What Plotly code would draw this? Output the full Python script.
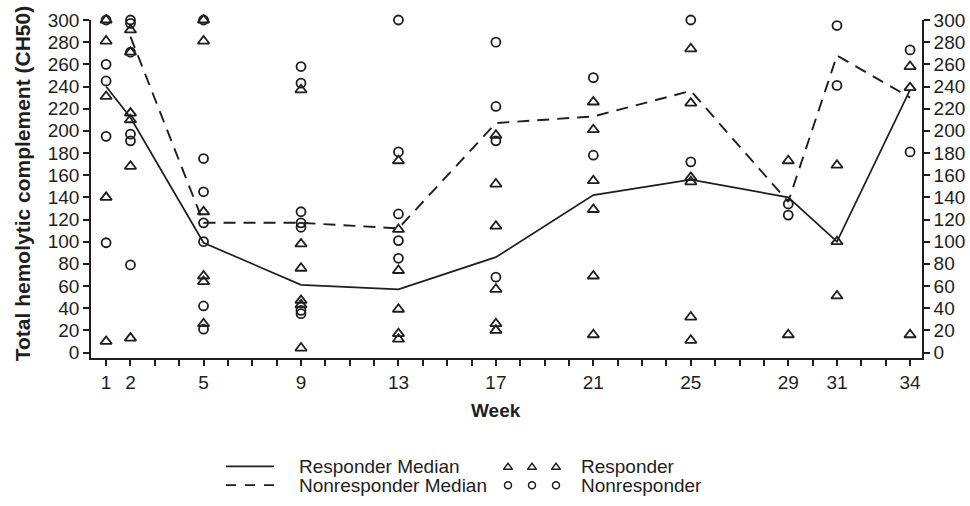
import plotly.graph_objects as go

# Study weeks on the x axis
weeks = [1, 2, 5, 9, 13, 17, 21, 25, 29, 31, 34]

# Individual CH50 readings per week (same order as weeks)
responder_values = [
    [300, 281, 231, 140, 10],
    [291, 271, 216, 210, 168, 13],
    [300, 281, 127, 69, 64, 26],
    [237, 98, 76, 47, 43, 4],
    [173, 111, 74, 39, 17, 12],
    [196, 152, 114, 57, 26, 20],
    [226, 201, 155, 129, 69, 16],
    [274, 225, 158, 154, 32, 11],
    [173, 16],
    [169, 100, 51],
    [258, 239, 16],
]
nonresponder_values = [
    [300, 260, 245, 195, 99],
    [300, 297, 271, 197, 191, 79],
    [300, 175, 145, 117, 100, 42, 21],
    [258, 243, 127, 117, 113, 38, 35],
    [300, 181, 125, 101, 85],
    [280, 222, 191, 68],
    [248, 178],
    [300, 172],
    [134, 124],
    [295, 241],
    [273, 181],
]

# Weekly medians
responder_median = [240, 212, 99, 61, 57, 86, 142, 156, 140, 100, 237]
nonresponder_median = [None, 285, 117, 117, 112, 207, 213, 236, 136, 268, 230]

# Axis ticks
y_ticks = list(range(0, 301, 20))
x_minor_ticks = list(range(1, 35))

INK = "#1e1e1e"
FONT = "Liberation Sans, Arial, sans-serif"


def flatten(groups):
    xs, ys = [], []
    for w, vals in zip(weeks, groups):
        for v in vals:
            xs.append(w)
            ys.append(v)
    return xs, ys


rx, ry = flatten(responder_values)
nx, ny = flatten(nonresponder_values)

fig = go.Figure()

fig.add_trace(go.Scatter(
    x=weeks, y=responder_median, mode="lines",
    line=dict(color=INK, width=1.7), showlegend=False, cliponaxis=False))
fig.add_trace(go.Scatter(
    x=weeks, y=nonresponder_median, mode="lines", connectgaps=False,
    line=dict(color=INK, width=1.9, dash="12px,8px"), showlegend=False,
    cliponaxis=False))
fig.add_trace(go.Scatter(
    x=rx, y=ry, mode="markers",
    marker=dict(symbol="triangle-up-open", size=10, color=INK,
                line=dict(width=1.8, color=INK)),
    showlegend=False, cliponaxis=False))
fig.add_trace(go.Scatter(
    x=nx, y=ny, mode="markers",
    marker=dict(symbol="circle-open", size=9, color=INK,
                line=dict(width=1.8, color=INK)),
    showlegend=False, cliponaxis=False))

# Mirror axis on the right
fig.add_trace(go.Scatter(x=[None], y=[None], yaxis="y2", showlegend=False))

# ---- Custom legend drawn on a hidden axis pair below the plot ----
W, H = 970, 506
ML, MR, MT, MB = 91, 48, 20, 0
PW, PH = W - ML - MR, H - MT - MB
main_bottom_px = 362
main_domain_y0 = (H - main_bottom_px) / PH

leg_line_x = [226, 274]
leg_marker_x = [508, 532, 556]
leg_row_y = [H - 471, H - 490]

fig.add_trace(go.Scatter(
    x=leg_line_x, y=[leg_row_y[0]] * 2, mode="lines",
    line=dict(color=INK, width=1.7), xaxis="x3", yaxis="y3",
    showlegend=False, hoverinfo="skip"))
fig.add_trace(go.Scatter(
    x=leg_line_x, y=[leg_row_y[1]] * 2, mode="lines",
    line=dict(color=INK, width=1.9, dash="10px,9px"), xaxis="x3", yaxis="y3",
    showlegend=False, hoverinfo="skip"))
fig.add_trace(go.Scatter(
    x=leg_marker_x, y=[leg_row_y[0] - 1] * 3, mode="markers",
    marker=dict(symbol="triangle-up-open", size=8, color=INK,
                line=dict(width=1.5, color=INK)),
    xaxis="x3", yaxis="y3", showlegend=False, hoverinfo="skip"))
fig.add_trace(go.Scatter(
    x=leg_marker_x, y=[leg_row_y[1]] * 3, mode="markers",
    marker=dict(symbol="circle-open", size=7, color=INK,
                line=dict(width=1.5, color=INK)),
    xaxis="x3", yaxis="y3", showlegend=False, hoverinfo="skip"))

legend_labels = [
    (297, leg_row_y[0], "Responder Median"),
    (297, leg_row_y[1], "Nonresponder Median"),
    (579, leg_row_y[0], "Responder"),
    (579, leg_row_y[1], "Nonresponder"),
]
annotations = [
    dict(x=lx, y=ly, xref="x3", yref="y3", text=t, showarrow=False,
         xanchor="left", yanchor="middle",
         font=dict(family=FONT, size=19, color=INK))
    for lx, ly, t in legend_labels
]

# Axis titles
annotations.append(dict(
    x=(22 - ML) / PW, y=(H - 185) / PH, xref="paper", yref="paper",
    text="<b>Total hemolytic complement (CH50)</b>", textangle=-90,
    showarrow=False, xanchor="center", yanchor="middle",
    font=dict(family=FONT, size=21, color=INK)))
annotations.append(dict(
    x=(496 - ML) / PW, y=(H - 415) / PH, xref="paper", yref="paper",
    text="<b>Week</b>", showarrow=False, xanchor="center", yanchor="middle",
    font=dict(family=FONT, size=19, color=INK)))

tick_font = dict(family=FONT, size=19, color=INK)
y_range = [-5.4, 300]

fig.update_layout(
    width=W, height=H,
    margin=dict(l=ML, r=MR, t=MT, b=MB, pad=0),
    paper_bgcolor="white", plot_bgcolor="white",
    showlegend=False,
    annotations=annotations,
    xaxis=dict(
        domain=[0, 1], range=[0.38, 34.49], anchor="y",
        tickmode="array", tickvals=weeks, ticktext=[str(w) for w in weeks],
        ticks="outside", ticklen=6, tickwidth=1.5, tickcolor=INK,
        minor=dict(tickmode="array", tickvals=x_minor_ticks, ticks="outside",
                   ticklen=6, tickwidth=1.5, tickcolor=INK),
        showline=True, linecolor=INK, linewidth=1.6,
        showgrid=False, zeroline=False, tickfont=tick_font,
    ),
    yaxis=dict(
        domain=[main_domain_y0, 1], range=y_range, anchor="x",
        tickmode="array", tickvals=y_ticks,
        ticks="outside", ticklen=6, tickwidth=1.5, tickcolor=INK,
        showline=True, linecolor=INK, linewidth=1.6,
        showgrid=False, zeroline=False, tickfont=tick_font,
    ),
    yaxis2=dict(
        overlaying="y", side="right", anchor="x", range=y_range,
        tickmode="array", tickvals=y_ticks,
        ticks="outside", ticklen=6, tickwidth=1.5, tickcolor=INK,
        showline=True, linecolor=INK, linewidth=1.6,
        showgrid=False, zeroline=False, tickfont=tick_font,
    ),
    xaxis3=dict(domain=[0, 1], range=[ML, W - MR], anchor="y3",
                visible=False, fixedrange=True),
    yaxis3=dict(domain=[0, main_domain_y0], range=[0, H - main_bottom_px],
                anchor="x3", visible=False, fixedrange=True),
)

fig.write_html("out.html")
